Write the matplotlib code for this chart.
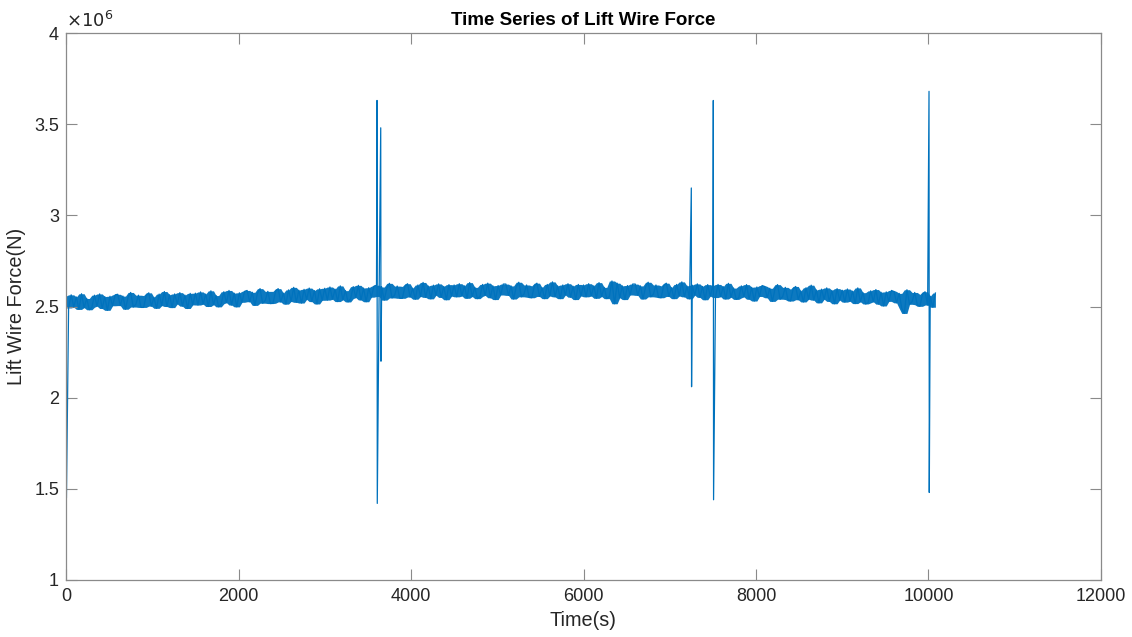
import numpy as np
import matplotlib
matplotlib.use("Agg")
import matplotlib.pyplot as plt
from matplotlib.ticker import FixedLocator, FuncFormatter

plt.rcParams["font.family"] = ["Liberation Sans", "DejaVu Sans"]

# Sampled lift wire force (units of 1e6 N), one sample every 30 s from t = 0 s
base_step_s = 30
force_mega_n = [
    2.557, 2.492, 2.564, 2.497, 2.552, 2.484, 2.570, 2.494, 2.544, 2.482,
    2.496, 2.562, 2.502, 2.569, 2.489, 2.554, 2.479, 2.556, 2.504, 2.564,
    2.567, 2.505, 2.557, 2.485, 2.552, 2.577, 2.497, 2.512, 2.562, 2.495,
    2.495, 2.560, 2.575, 2.502, 2.550, 2.490, 2.568, 2.505, 2.582, 2.500,
    2.564, 2.494, 2.569, 2.514, 2.576, 2.502, 2.562, 2.489, 2.572, 2.509,
    2.573, 2.508, 2.580, 2.513, 2.568, 2.500, 2.586, 2.510, 2.560, 2.498,
    2.515, 2.581, 2.521, 2.588, 2.508, 2.573, 2.498, 2.575, 2.523, 2.583,
    2.588, 2.526, 2.578, 2.506, 2.573, 2.598, 2.518, 2.533, 2.583, 2.516,
    2.518, 2.583, 2.598, 2.525, 2.573, 2.513, 2.591, 2.528, 2.605, 2.523,
    2.589, 2.519, 2.594, 2.539, 2.601, 2.527, 2.587, 2.514, 2.597, 2.534,
    2.600, 2.535, 2.607, 2.540, 2.595, 2.527, 2.613, 2.537, 2.587, 2.525,
    2.543, 2.609, 2.549, 2.616, 2.536, 2.601, 2.526, 2.603, 2.551, 2.611,
    2.617, 2.555, 2.607, 2.535, 2.602, 2.627, 2.547, 2.562, 2.612, 2.545,
    2.545, 2.610, 2.625, 2.552, 2.600, 2.540, 2.618, 2.555, 2.632, 2.550,
    2.612, 2.542, 2.617, 2.562, 2.624, 2.550, 2.610, 2.537, 2.620, 2.557,
    2.618, 2.553, 2.625, 2.558, 2.613, 2.545, 2.631, 2.555, 2.605, 2.543,
    2.555, 2.621, 2.561, 2.628, 2.548, 2.613, 2.538, 2.615, 2.563, 2.623,
    2.623, 2.561, 2.613, 2.541, 2.608, 2.633, 2.553, 2.568, 2.618, 2.551,
    2.548, 2.613, 2.628, 2.555, 2.603, 2.543, 2.621, 2.558, 2.635, 2.553,
    2.613, 2.543, 2.618, 2.563, 2.625, 2.551, 2.611, 2.538, 2.621, 2.558,
    2.618, 2.553, 2.625, 2.558, 2.613, 2.545, 2.631, 2.555, 2.605, 2.543,
    2.555, 2.640, 2.515, 2.628, 2.548, 2.613, 2.538, 2.615, 2.563, 2.623,
    2.623, 2.561, 2.613, 2.541, 2.608, 2.633, 2.553, 2.568, 2.618, 2.551,
    2.548, 2.613, 2.628, 2.555, 2.603, 2.543, 2.621, 2.558, 2.635, 2.553,
    2.612, 2.542, 2.617, 2.562, 2.624, 2.550, 2.610, 2.537, 2.620, 2.557,
    2.614, 2.549, 2.621, 2.554, 2.609, 2.541, 2.627, 2.551, 2.601, 2.539,
    2.547, 2.613, 2.553, 2.620, 2.540, 2.605, 2.530, 2.607, 2.555, 2.615,
    2.610, 2.548, 2.600, 2.528, 2.595, 2.620, 2.540, 2.555, 2.605, 2.538,
    2.530, 2.595, 2.610, 2.537, 2.585, 2.525, 2.603, 2.540, 2.617, 2.535,
    2.590, 2.520, 2.595, 2.540, 2.602, 2.528, 2.588, 2.515, 2.598, 2.535,
    2.589, 2.524, 2.596, 2.529, 2.584, 2.516, 2.602, 2.526, 2.576, 2.514,
    2.520, 2.586, 2.526, 2.593, 2.513, 2.578, 2.503, 2.580, 2.528, 2.588,
    2.582, 2.520, 2.572, 2.490, 2.462, 2.592, 2.512, 2.527, 2.577, 2.510,
    2.501, 2.566, 2.581, 2.508, 2.556, 2.496, 2.574,
]

# Transient load events: time (s), peak and trough force (1e6 N)
event_time_s = [2, 3606, 3649, 7250, 7505, 10006]
event_peak = [3.62, 3.63, 3.48, 3.15, 3.63, 3.68]
event_trough = [1.45, 1.42, 2.20, 2.06, 1.44, 1.48]

x_ticks = [0, 2000, 4000, 6000, 8000, 10000, 12000]
y_ticks = [1, 1.5, 2, 2.5, 3, 3.5, 4]

# Merge the regular samples with the event samples in time order
base_t = np.arange(len(force_mega_n)) * base_step_s
base_f = np.asarray(force_mega_n)
t_all = np.concatenate([base_t, np.array(event_time_s, float),
                        np.array(event_time_s, float) + 3])
f_all = np.concatenate([base_f, event_peak, event_trough])
order = np.argsort(t_all, kind="stable")
t_all, f_all = t_all[order], f_all[order]

# Min/max envelope of each sample and its neighbours, so the densely
# oscillating signal renders as a filled band
padded = np.pad(base_f, 1, mode="edge")
window = np.vstack([padded[:-2], padded[1:-1], padded[2:]])
env_hi = window.max(axis=0)
env_lo = window.min(axis=0)

fig = plt.figure(figsize=(11.32, 6.37), dpi=100)
ax = fig.add_axes([66 / 1132, 57 / 637, 1035 / 1132, 547 / 637])

line_blue = "#0072BD"
ax.fill_between(base_t, env_lo, env_hi, color=line_blue, lw=0, alpha=0.95)
ax.plot(t_all, f_all, color=line_blue, lw=0.9)

ax.set_xlim(0, 12000)
ax.set_ylim(1, 4)
ax.xaxis.set_major_locator(FixedLocator(x_ticks))
ax.yaxis.set_major_locator(FixedLocator(y_ticks))
ax.yaxis.set_major_formatter(FuncFormatter(lambda v, p: f"{v:g}"))

axis_grey = "#8a8a8a"
text_grey = "#262626"
for s in ax.spines.values():
    s.set_color(axis_grey)
    s.set_linewidth(0.9)
ax.tick_params(direction="in", length=8, width=0.8, color=axis_grey,
               labelcolor=text_grey, labelsize=13, top=True, right=True)
ax.tick_params(axis="x", pad=6)
ax.tick_params(axis="y", pad=5)

ax.set_xlabel("Time(s)", fontsize=14.3, color=text_grey, labelpad=4)
ax.set_ylabel("Lift Wire Force(N)", fontsize=14.3, color=text_grey, labelpad=6)
ax.set_title("Time Series of Lift Wire Force", fontsize=13.5,
             fontweight="bold", color="black", pad=6)
ax.text(0.0, 1.004, r"$\times10^{6}$", transform=ax.transAxes,
        fontsize=13, color=text_grey, ha="left", va="bottom")

fig.savefig("out.png", dpi=100, facecolor="white")
